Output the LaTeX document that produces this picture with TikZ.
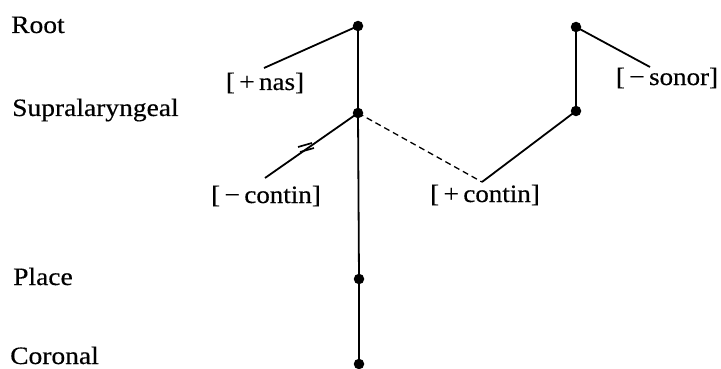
\documentclass[tikz,border=0pt]{standalone}
\usepackage{fontspec}
\setmainfont{Liberation Serif}[FakeBold=0.4]
\begin{document}
\begin{tikzpicture}[x=1pt,y=-1pt,
  dotnode/.style={circle,fill=black,inner sep=0pt,minimum size=10.5pt},
  tierlabel/.style={anchor=base west,inner sep=0pt,xscale=1.1,font=\fontsize{25}{30}\selectfont},
  featlabel/.style={anchor=base,inner sep=0pt,xscale=1.08,font=\fontsize{25}{30}\selectfont},
  assoc/.style={line width=1.8pt},
  dashlink/.style={line width=1.3pt,dash pattern=on 6pt off 4pt},
  delink/.style={line width=1.7pt}]
\useasboundingbox (0,0) rectangle (721,369);
% tier labels
\node[tierlabel] (lroot) at (11,33) {Root};
\node[tierlabel] (lsupra) at (12,116) {Supralaryngeal};
\node[tierlabel] (lplace) at (13,285) {Place};
\node[tierlabel] (lcor) at (10,364) {Coronal};
% dots
\node[dotnode] (root) at (358,26) {};
\node[dotnode] (supra) at (358,113) {};
\node[dotnode] (place) at (359,279) {};
\node[dotnode] (cor) at (359,364) {};
\node[dotnode] (r1) at (576,27) {};
\node[dotnode] (r2) at (576,111) {};
% feature ends
\coordinate (nasE) at (264,68);
\coordinate (mcontE) at (265,178);
\coordinate (pcontE) at (482,182);
\coordinate (sonorE) at (650,67);
% feature labels
\node[featlabel] (nas) at (265,90) {[\,+\,nas]};
\node[featlabel] (mcont) at (266,203) {[\,−\,contin]};
\node[featlabel] (pcont) at (485,202) {[\,+\,contin]};
\node[featlabel] (sonor) at (667,85) {[\,−\,sonor]};
% lines
\draw[assoc] (root.center) -- (supra.center) -- (place.center) -- (cor.center);
\draw[assoc] (root.center) -- (nasE);
\draw[assoc] (supra.center) -- (mcontE);
\draw[dashlink] (supra.center) -- (pcontE);
\draw[assoc] (pcontE) -- (r2.center) -- (r1.center) -- (sonorE);
% delinking marks
\coordinate (dm) at (306,147.5);
\draw[delink] ([shift={(-8,-0.5)}]dm) -- ([shift={(6,-4.5)}]dm);
\draw[delink] ([shift={(-6,4.5)}]dm) -- ([shift={(8,0.5)}]dm);
\end{tikzpicture}
\end{document}
